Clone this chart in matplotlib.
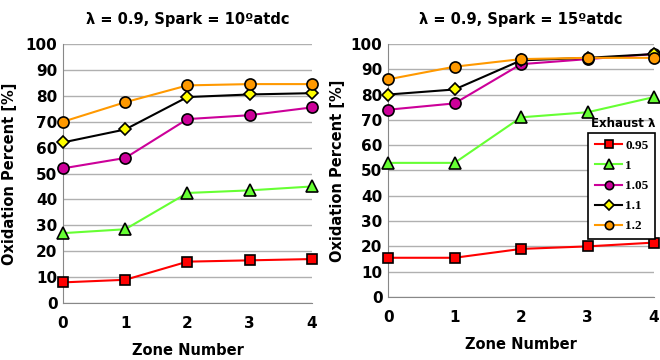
import matplotlib
matplotlib.use("Agg")
import matplotlib.pyplot as plt

plt.rcParams['font.family'] = ['DejaVu Sans']
plt.rcParams['font.weight'] = 'bold'

zones = [0, 1, 2, 3, 4]
lambdas = ['0.95', '1', '1.05', '1.1', '1.2']

# Spark = 10 atdc
left_095 = [8, 9, 16, 16.5, 17]
left_100 = [27, 28.5, 42.5, 43.5, 45]
left_105 = [52, 56, 71, 72.5, 75.5]
left_110 = [62, 67, 79.5, 80.5, 81]
left_120 = [70, 77.5, 84, 84.5, 84.5]

# Spark = 15 atdc
right_095 = [15.5, 15.5, 19, 20, 21.5]
right_100 = [53, 53, 71, 73, 79]
right_105 = [74, 76.5, 92, 94, 96]
right_110 = [80, 82, 93.5, 94.5, 96]
right_120 = [86, 91, 94, 94.5, 94.5]

colors = ['#ff0000', '#66ff33', '#cc0099', '#000000', '#ff9900']
faces = ['#ff0000', '#66ff33', '#cc0099', '#ffff00', '#ff9900']
markers = ['s', '^', 'o', 'D', 'o']
msizes = [7.5, 9, 8, 6.5, 8]

fig = plt.figure(figsize=(6.6, 3.6), dpi=100)
ax1 = fig.add_axes([0.0955, 0.158, 0.377, 0.72])
ax2 = fig.add_axes([0.588, 0.175, 0.403, 0.703])

def draw(ax, series, title, ylab_x):
    lines = []
    for ys, c, fc, m, ms in zip(series, colors, faces, markers, msizes):
        ln, = ax.plot(zones, ys, color=c, lw=1.5, marker=m, ms=ms,
                      mfc=fc, mec='black', mew=1.2, clip_on=False, zorder=3)
        lines.append(ln)
    ax.set_xlim(0, 4)
    ax.set_ylim(0, 100)
    ax.set_xticks(zones)
    ax.set_yticks(range(0, 101, 10))
    ax.grid(axis='y', color='#b0b0b0', lw=1)
    ax.set_axisbelow(True)
    for s in ['top', 'right']:
        ax.spines[s].set_visible(False)
    for s in ['left', 'bottom']:
        ax.spines[s].set_color('#888888')
    ax.tick_params(length=0, labelsize=11, pad=4)
    ax.tick_params(axis='x', pad=9)
    ax.set_title(title, fontsize=10.5, fontweight='bold', pad=14)
    ax.set_xlabel('Zone Number', fontsize=10.5, fontweight='bold', labelpad=9)
    ax.set_ylabel('Oxidation Percent [%]', fontsize=10.5, fontweight='bold')
    ax.yaxis.set_label_coords(ylab_x, 0.5)
    return lines

draw(ax1, [left_095, left_100, left_105, left_110, left_120],
     'λ = 0.9, Spark = 10ºatdc', -0.185)
lines = draw(ax2, [right_095, right_100, right_105, right_110, right_120],
             'λ = 0.9, Spark = 15ºatdc', -0.162)

leg = ax2.legend(lines, lambdas, loc='upper left', bbox_to_anchor=(0.752, 0.648),
                 borderaxespad=0, frameon=True, fancybox=False,
                 edgecolor='black', framealpha=1,
                 prop={'family': 'Liberation Serif', 'weight': 'bold', 'size': 9.5},
                 markerscale=0.75, handlelength=2.1, handletextpad=0.2,
                 labelspacing=0.6, borderpad=0.5)
leg.get_frame().set_linewidth(1.2)
ax2.text(0.883, 0.684, 'Exhaust λ', transform=ax2.transAxes, ha='center',
         va='center', fontsize=8.5, fontweight='bold')

fig.savefig('out.png', dpi=100)
